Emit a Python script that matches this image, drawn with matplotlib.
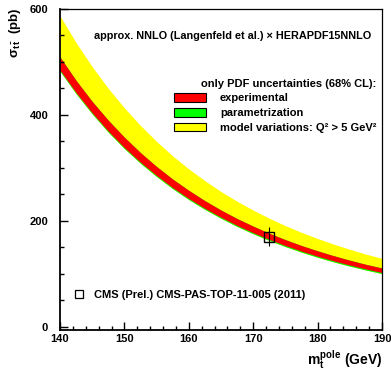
import matplotlib
matplotlib.use('Agg')
import matplotlib.pyplot as plt
from matplotlib.patches import Patch
from matplotlib.lines import Line2D
from matplotlib.ticker import MultipleLocator

plt.rcParams['font.family'] = ['Liberation Sans', 'DejaVu Sans']
plt.rcParams['font.weight'] = 'bold'
plt.rcParams['mathtext.fontset'] = 'custom'
plt.rcParams['mathtext.rm'] = 'Liberation Sans:bold'
plt.rcParams['mathtext.it'] = 'Liberation Sans:bold'
plt.rcParams['mathtext.bf'] = 'Liberation Sans:bold'

# top pole mass (GeV) and cross section bands (pb)
mt = [140, 142.5, 145, 147.5, 150, 152.5, 155, 157.5, 160, 162.5, 165,
      167.5, 170, 172.5, 175, 177.5, 180, 182.5, 185, 187.5, 190]
exp_lo = [484.6, 442.1, 404.0, 369.5, 338.5, 310.8, 285.8, 262.9, 242.3,
          223.8, 207.0, 191.6, 177.8, 165.1, 153.6, 143.1, 133.5, 124.7,
          116.8, 109.4, 102.7]
exp_hi = [509.4, 465.3, 425.6, 390.1, 358.1, 329.0, 302.8, 279.1, 257.8,
          238.4, 220.7, 204.6, 190.3, 176.9, 164.8, 153.7, 143.7, 134.5,
          126.0, 118.2, 111.3]
par_lo = [482.6, 440.1, 402.0, 367.5, 336.5, 308.8, 283.8, 260.9, 240.3,
          221.8, 205.0, 189.6, 175.8, 163.1, 151.6, 141.1, 131.5, 122.7,
          114.8, 107.4, 100.7]
mod_hi = [587.0, 536.5, 491.1, 450.2, 413.4, 380.1, 350.1, 322.8, 298.2,
          276.0, 255.6, 237.1, 220.5, 205.2, 191.2, 178.5, 166.9, 156.3,
          146.5, 137.5, 129.5]

# CMS measurement
cms_mt = [172.5]
cms_xs = [170]
cms_err = [18]

fig = plt.figure(figsize=(3.91, 3.74), dpi=100)
ax = fig.add_axes([60/391, 1-330/374, 322/391, 321/374])

ax.fill_between(mt, par_lo, mod_hi, color='#ffff00', lw=0)
ax.fill_between(mt, par_lo, exp_hi, color='#00ff00', lw=0)
ax.fill_between(mt, exp_lo, exp_hi, color='#ff0000', lw=0)

ax.errorbar(cms_mt, cms_xs, yerr=cms_err, fmt='s', ms=7, mfc='none',
            mec='black', mew=1.0, ecolor='black', elinewidth=0.8, capsize=0)

ax.set_xlim(140, 190)
ax.set_ylim(-5.7, 600)
ax.xaxis.set_major_locator(MultipleLocator(10))
ax.xaxis.set_minor_locator(MultipleLocator(2))
ax.yaxis.set_major_locator(MultipleLocator(200))
ax.yaxis.set_minor_locator(MultipleLocator(50))
ax.tick_params(which='both', direction='in', top=False, right=False,
               labelsize=8, width=1)
ax.tick_params(axis='y', which='both', pad=8.5)
ax.tick_params(axis='x', which='both', pad=3)
ax.tick_params(which='major', length=6)
ax.tick_params(which='minor', length=3)
for s in ['left', 'bottom']:
    ax.spines[s].set_linewidth(1.3)
for s in ['right', 'top']:
    ax.spines[s].set_linewidth(0.9)

ax.text(0.106, 0.916, 'approx. NNLO (Langenfeld et al.) \u00d7 HERAPDF15NNLO',
        transform=ax.transAxes, fontsize=7.85, va='center', ha='left')

handles = [Patch(fc='#ff0000', ec='black', lw=0.8),
           Patch(fc='#00ff00', ec='black', lw=0.8),
           Patch(fc='#ffff00', ec='black', lw=0.8)]
labels = ['experimental', 'parametrization',
          'model variations: Q\u00b2 > 5 GeV\u00b2']
leg = ax.legend(handles, labels, title='only PDF uncertainties (68% CL):',
                loc='upper right', bbox_to_anchor=(0.99, 0.79),
                frameon=False, fontsize=8, title_fontsize=8,
                alignment='right', handlelength=2.88, handleheight=0.85,
                handletextpad=1.26, labelspacing=0.4, borderpad=0,
                borderaxespad=0.2)
ax.add_artist(leg)

cms_handle = Line2D([], [], ls='none', marker='s', ms=6, mfc='none',
                    mec='black', mew=0.9)
ax.legend([cms_handle], ['CMS (Prel.) CMS-PAS-TOP-11-005 (2011)'],
          loc='center left', bbox_to_anchor=(0.038, 0.109), frameon=False,
          fontsize=8, handlelength=1.2, handletextpad=0.76, borderpad=0,
          borderaxespad=0)

fig.text(15/391, 1-7/374, r'$\sigma_{t\,\bar{t}}$  (pb)', rotation=90,
         ha='center', va='top', fontsize=9.5)
fig.text(382/391, 1-360/374, r'$m_{t}^{pole}$ (GeV)', ha='right',
         va='center', fontsize=10)

fig.savefig('out.png', dpi=100)
